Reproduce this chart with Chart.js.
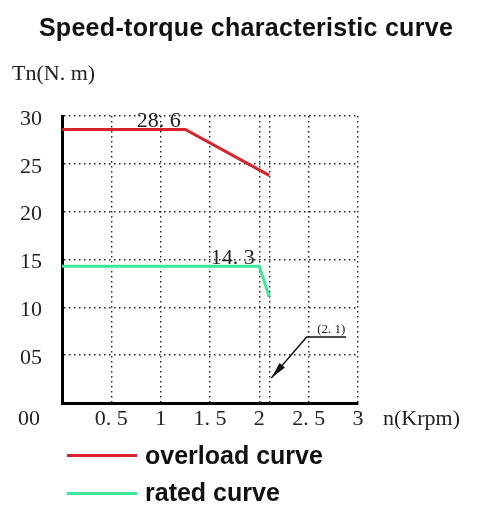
<!DOCTYPE html>
<html>
<head>
<meta charset="utf-8">
<script src="https://cdn.jsdelivr.net/npm/chart.js@4.4.1/dist/chart.umd.min.js"></script>
<style>
  html, body { margin: 0; padding: 0; background: #fff; }
  #wrap { position: relative; width: 480px; height: 515px; overflow: hidden; }
  #chart { position: absolute; left: 0; top: 0; }
  .txt { position: absolute; white-space: nowrap; color: #1a1a1a; }
  .title { left: 0; width: 492px; top: 13px; line-height: 30px; text-align: center; letter-spacing: 0.3px;
           font: bold 25px "Liberation Sans", Arial, sans-serif; color: #111; }
  .serif { font: 22px "Liberation Serif", "DejaVu Serif", serif; line-height: 24px; color: #222; }
  .leg-line { position: absolute; left: 67px; width: 70px; height: 3px; }
  .leg-text { font: bold 25px "Liberation Sans", Arial, sans-serif; line-height: 30px; color: #111; left: 145px; }
</style>
</head>
<body>
<div id="wrap">
  <canvas id="chart" width="480" height="515"></canvas>
  <div class="txt title">Speed-torque characteristic curve</div>
  <div class="txt serif" style="left:12px; top:61px">Tn(N. m)</div>
  <div class="txt serif" style="left:18px; top:406px">00</div>
  <div class="txt serif" style="left:383px; top:406px">n(Krpm)</div>

  <div class="leg-line" id="leg-line-0" style="top:454px"></div>
  <div class="txt leg-text" id="leg-text-0" style="top:440px"></div>
  <div class="leg-line" id="leg-line-1" style="top:492px"></div>
  <div class="txt leg-text" id="leg-text-1" style="top:477px"></div>
</div>

<script>
// speed-torque data
const seriesNames  = ['overload curve', 'rated curve']
const seriesColors = ['#d8232a', '#3ee89b']

const overloadX = [0, 1.25, 2.1]
const overloadY = [28.6, 28.6, 23.8]
const ratedX    = [0, 2.0, 2.1]
const ratedY    = [14.3, 14.3, 11.1]

const xTicks      = [0, 0.5, 1, 1.5, 2, 2.1, 2.5, 3]
const xTickLabels = ['', '0. 5', '1', '1. 5', '2', '', '2. 5', '3']
const yTicks      = [0, 5, 10, 15, 20, 25, 30]
const yTickLabels = ['', '05', '10', '15', '20', '25', '30']

// value labels above the flat parts
const peakLabels = ['28. 6', '14. 3']
const peakLabelX = [0.98, 1.73]
const peakLabelY = [28.6, 14.3]

// callout for the 2.1 krpm corner
const calloutText  = '(2. 1)'
const calloutTip   = [2.12, 2.6]
const calloutElbow = [2.48, 6.9]
const calloutEnd   = [2.88, 6.9]
const calloutLabel = [2.73, 7.7]

seriesNames.forEach((n, i) => {
  document.getElementById('leg-text-' + i).textContent = n
  document.getElementById('leg-line-' + i).style.background = seriesColors[i]
})

const SERIF = '"Liberation Serif", "DejaVu Serif", serif'

const annotations = {
  id: 'annotations',
  afterDatasetsDraw(chart) {
    const { ctx, scales: { x, y } } = chart
    ctx.save()
    ctx.fillStyle = '#222'
    ctx.font = '22px ' + SERIF
    ctx.textAlign = 'center'
    ctx.textBaseline = 'alphabetic'
    peakLabels.forEach((t, i) => {
      ctx.fillText(t, x.getPixelForValue(peakLabelX[i]), y.getPixelForValue(peakLabelY[i]) - 2)
    })

    // leader line + arrow
    const tx = x.getPixelForValue(calloutTip[0]), ty = y.getPixelForValue(calloutTip[1])
    const ex = x.getPixelForValue(calloutElbow[0]), ey = y.getPixelForValue(calloutElbow[1])
    const fx = x.getPixelForValue(calloutEnd[0]), fy = y.getPixelForValue(calloutEnd[1])
    ctx.strokeStyle = '#111'
    ctx.lineWidth = 1.5
    ctx.beginPath()
    ctx.moveTo(fx, fy); ctx.lineTo(ex, ey); ctx.lineTo(tx, ty)
    ctx.stroke()
    const ang = Math.atan2(ty - ey, tx - ex)
    const len = 17, half = 3.5
    ctx.fillStyle = '#111'
    ctx.beginPath()
    ctx.moveTo(tx, ty)
    ctx.lineTo(tx - len * Math.cos(ang) + half * Math.sin(ang), ty - len * Math.sin(ang) - half * Math.cos(ang))
    ctx.lineTo(tx - len * Math.cos(ang) - half * Math.sin(ang), ty - len * Math.sin(ang) + half * Math.cos(ang))
    ctx.closePath()
    ctx.fill()

    ctx.fillStyle = '#222'
    ctx.font = '13px ' + SERIF
    ctx.textBaseline = 'middle'
    ctx.fillText(calloutText, x.getPixelForValue(calloutLabel[0]), y.getPixelForValue(calloutLabel[1]))
    ctx.restore()
  }
}

const gridColor = c => (c.tick && c.tick.value === 0) ? 'rgba(0,0,0,0)' : '#222'

new Chart(document.getElementById('chart').getContext('2d'), {
  type: 'line',
  data: {
    datasets: [
      {
        label: seriesNames[0],
        data: overloadX.map((v, i) => ({ x: v, y: overloadY[i] })),
        borderColor: seriesColors[0], borderWidth: 3, pointRadius: 0, fill: false, tension: 0,
      },
      {
        label: seriesNames[1],
        data: ratedX.map((v, i) => ({ x: v, y: ratedY[i] })),
        borderColor: seriesColors[1], borderWidth: 3, pointRadius: 0, fill: false, tension: 0,
      },
    ]
  },
  options: {
    responsive: false, animation: false, devicePixelRatio: 1,
    layout: { padding: { left: 0, top: 116, right: 122, bottom: 0 } },
    plugins: { legend: { display: false }, title: { display: false }, tooltip: { enabled: false } },
    scales: {
      x: {
        type: 'linear', min: 0, max: 3,
        afterBuildTicks: s => { s.ticks = xTicks.map(v => ({ value: v })) },
        afterFit: s => { s.height = 112 },
        grid: { color: gridColor, lineWidth: 1.4, drawTicks: false },
        border: { display: true, color: '#000', width: 3, dash: [1.5, 3.5] },
        ticks: {
          autoSkip: false, maxRotation: 0, padding: 3, color: '#222',
          font: { family: SERIF, size: 22 },
          callback: v => xTickLabels[xTicks.indexOf(v)] ?? '',
        },
      },
      y: {
        type: 'linear', min: 0, max: 30,
        afterBuildTicks: s => { s.ticks = yTicks.map(v => ({ value: v })) },
        afterFit: s => { s.width = 62 },
        grid: { color: gridColor, lineWidth: 1.4, drawTicks: false },
        border: { display: true, color: '#000', width: 3, dash: [1.5, 3.5] },
        ticks: {
          padding: 20, labelOffset: 3, color: '#222',
          font: { family: SERIF, size: 22 },
          callback: v => yTickLabels[yTicks.indexOf(v)] ?? '',
        },
      },
    },
  },
  plugins: [annotations],
})
</script>
</body>
</html>
